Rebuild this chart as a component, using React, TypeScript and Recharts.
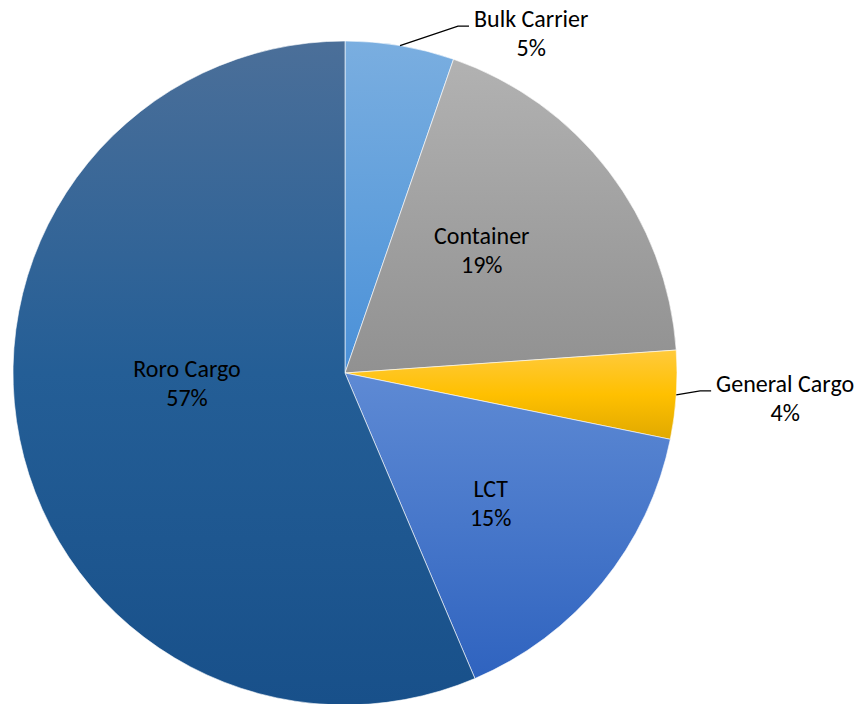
import React from "react";
import { PieChart, Pie, Cell } from "recharts";

const categories = ["Bulk Carrier", "Container", "General Cargo", "LCT", "Roro Cargo"];
const values = [5.3, 18.6, 4.3, 15.4, 56.4];
const percentLabels = ["5%", "19%", "4%", "15%", "57%"];
const outsideLabel = [true, false, true, false, false];
// label placement: fraction of radius, angular shift (degrees, counter-clockwise)
const labelRadius = [1.099, 0.551, 1.071, 0.59, 0.477];
const labelShift = [-8.5, 4.2, 0.9, -2.7, -7.5];

const gradients = [
  ["#7aaee0", "#62a0dc", "#4a90d8"],
  ["#b2b2b2", "#a1a1a1", "#919191"],
  ["#ffca3c", "#ffc000", "#e0a900"],
  ["#5e8ad4", "#4777ca", "#2f63bf"],
  ["#4b6f99", "#245e96", "#18508a"],
];

const data = categories.map((name, i) => ({ name, value: values[i], pct: percentLabels[i], outside: outsideLabel[i] }));

const FONT = "Carlito, Calibri, 'Liberation Sans', Arial, sans-serif";
const FONT_SIZE = 24;
const RAD = Math.PI / 180;

let ctx: CanvasRenderingContext2D | null = null;
const measure = (s: string) => {
  if (typeof document === "undefined") return s.length * 10;
  if (!ctx) ctx = document.createElement("canvas").getContext("2d");
  if (!ctx) return s.length * 10;
  ctx.font = `${FONT_SIZE}px ${FONT}`;
  return ctx.measureText(s).width;
};

const renderLabel = (props: any) => {
  const { cx, cy, midAngle, outerRadius, index } = props;
  const d = data[index];
  const ang = (midAngle + labelShift[index]) * RAD;
  const r = outerRadius * labelRadius[index];
  const x = cx + r * Math.cos(-ang);
  const y = cy + r * Math.sin(-ang);
  if (!d.outside) {
    return (
      <text x={x} y={y} textAnchor="middle" fontFamily={FONT} fontSize={FONT_SIZE} fill="#000">
        <tspan x={x} dy={-7}>{d.name}</tspan>
        <tspan x={x} dy={29}>{d.pct}</tspan>
      </text>
    );
  }
  const sx = cx + outerRadius * Math.cos(-midAngle * RAD);
  const sy = cy + outerRadius * Math.sin(-midAngle * RAD);
  const ex = x + 11;
  const tx = ex + 5;
  const centerX = tx + measure(d.name) / 2;
  return (
    <g>
      <polyline points={`${sx},${sy} ${x},${y} ${ex},${y}`} fill="none" stroke="#000" strokeWidth={1.3} />
      <text fontFamily={FONT} fontSize={FONT_SIZE} fill="#000" textAnchor="middle">
        <tspan x={centerX} y={y + 1}>{d.name}</tspan>
        <tspan x={centerX} y={y + 30}>{d.pct}</tspan>
      </text>
    </g>
  );
};

export default function App() {
  return (
    <div style={{ marginTop: -8, marginLeft: -8, width: 862, height: 704 }}>
      <PieChart width={862} height={704} margin={{ top: 0, right: 0, bottom: 0, left: 0 }}>
        <defs>
          {gradients.map((g, i) => (
            <linearGradient key={i} id={`grad${i}`} x1="0" y1="0" x2="0" y2="1">
              <stop offset="0%" stopColor={g[0]} />
              <stop offset="50%" stopColor={g[1]} />
              <stop offset="100%" stopColor={g[2]} />
            </linearGradient>
          ))}
        </defs>
        <Pie
          data={data}
          dataKey="value"
          nameKey="name"
          cx={345}
          cy={373}
          outerRadius={332}
          startAngle={90}
          endAngle={-270}
          stroke="#ffffff"
          strokeWidth={0.6}
          label={renderLabel}
          labelLine={false}
          isAnimationActive={false}
        >
          {data.map((_, i) => (
            <Cell key={i} fill={`url(#grad${i})`} />
          ))}
        </Pie>
      </PieChart>
    </div>
  );
}
